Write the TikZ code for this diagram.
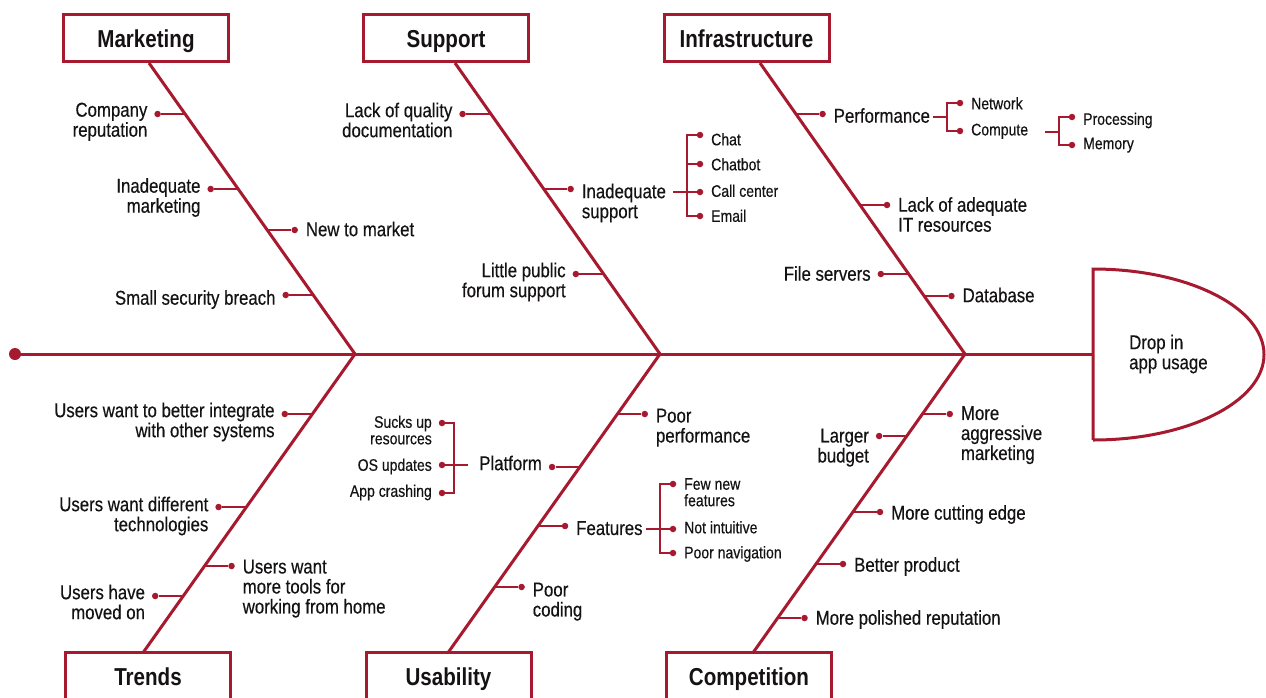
\documentclass[tikz,border=0pt]{standalone}
\usepackage{fontspec}
\setmainfont{Liberation Sans}[FakeStretch=0.84,FakeBold=0.35,BoldFeatures={FakeBold=0}]
\usetikzlibrary{calc}
\definecolor{fr}{RGB}{166,25,46}
\definecolor{ink}{RGB}{20,18,18}
% #1 name, #2 junction x, #3 tick y, #4 side (+1/-1), #5 first-line centre y, #6 text
\newcommand\fish[6]{%
  \pgfmathsetmacro\bx{#2-abs(#3-354)*((#3<354) ? 0.708 : 0.712)}%
  \pgfmathsetmacro\dx{\bx+#4*27.5}%
  \coordinate (#1b) at (\bx,#3);
  \node[dot] (#1d) at (\dx,#3) {};
  \draw[tick] (#1b) -- (#1d);
  \ifnum#4>0
    \node[lbl,align=left,anchor=north west] (#1) at (\dx+11,#5-7.5) {#6};
  \else
    \node[lbl,align=right,anchor=north east] (#1) at (\dx-10,#5-7.5) {#6};
  \fi
}
% small sub-cause: #1 name, #2 dot x, #3 dot y, #4 side, #5 first-line centre y, #6 text
\newcommand\subc[6]{%
  \node[dot] (#1d) at (#2,#3) {};
  \ifnum#4>0
    \node[sml,align=left,anchor=north west] (#1) at (#2+11,#5-6) {#6};
  \else
    \node[sml,align=right,anchor=north east] (#1) at (#2-10,#5-6) {#6};
  \fi
}
\begin{document}
\begin{tikzpicture}[x=1pt,y=-1pt,
  bone/.style={fr,line width=3pt},
  tick/.style={fr,line width=1.8pt},
  dot/.style={circle,fill=fr,draw=none,inner sep=0pt,minimum size=6.5pt},
  lbl/.style={inner sep=0pt,text=ink,font=\fontsize{20}{20}\selectfont},
  sml/.style={inner sep=0pt,text=ink,font=\fontsize{16.7}{16.5}\selectfont},
  cat/.style={draw=fr,line width=3pt,minimum width=165pt,minimum height=47pt,inner sep=0pt,
    text height=18pt,text depth=0pt,text=ink,font=\fontsize{24.5}{25}\selectfont\bfseries}]
\path[fill=white] (0,0) rectangle (1266,697);
\useasboundingbox (0,0) rectangle (1266,697);

% category boxes
\node[cat] (mk) at (146,38) {Marketing};
\node[cat] (sp) at (446,38) {Support};
\node[cat] (in) at (746.5,38) {Infrastructure};
\node[cat] (tr) at (148,676) {Trends};
\node[cat] (us) at (448.5,676) {Usability};
\node[cat] (co) at (749,676) {Competition};

% spine and head
\node[dot,minimum size=12pt] (tail) at (15,354) {};
\coordinate (J1) at (355,354);
\coordinate (J2) at (660,354);
\coordinate (J3) at (965,354);
\coordinate (headL) at (1093,354);
\draw[bone] (tail.center) -- (headL);
\draw[bone] (1093,440) -- (1093,269) arc[start angle=-90,end angle=90,x radius=171,y radius=85.5];
\node[lbl,align=left,anchor=north west] (eff) at (1129,334.5) {Drop in\\app usage};

% bones
\coordinate (mkT) at (149,63);
\coordinate (spT) at (455,63);
\coordinate (inT) at (760,63);
\coordinate (trB) at (143.5,652);
\coordinate (usB) at (448.5,652);
\coordinate (coB) at (753.5,652);
\draw[bone] (mkT) -- (J1) -- (trB);
\draw[bone] (spT) -- (J2) -- (usB);
\draw[bone] (inT) -- (J3) -- (coB);

% Marketing
\fish{c1}{355}{114}{-1}{110}{Company\\reputation}
\fish{c2}{355}{189}{-1}{185.5}{Inadequate\\marketing}
\fish{c3}{355}{230}{1}{229}{New to market}
\fish{c4}{355}{295}{-1}{297.5}{Small security breach}
% Support
\fish{s1}{660}{114}{-1}{110}{Lack of quality\\documentation}
\fish{s2}{660}{189}{1}{191}{Inadequate\\support}
\fish{s3}{660}{274}{-1}{270}{Little public\\forum support}
% Infrastructure
\fish{i1}{965}{114}{1}{115.5}{Performance}
\fish{i2}{965}{205}{1}{204.5}{Lack of adequate\\IT resources}
\fish{i3}{965}{274}{-1}{273.5}{File servers}
\fish{i4}{965}{296}{1}{295}{Database}
% Trends
\fish{t1}{355}{414}{-1}{410}{Users want to better integrate\\with other systems}
\fish{t2}{355}{507}{-1}{504}{Users want different\\technologies}
\fish{t3}{355}{566}{1}{567}{Users want\\more tools for\\working from home}
\fish{t4}{355}{596}{-1}{592}{Users have\\moved on}
% Usability
\fish{u1}{660}{414}{1}{416}{Poor\\performance}
\fish{u2}{660}{467}{-1}{463}{Platform}
\fish{u3}{660}{526}{1}{528.5}{Features}
\fish{u4}{660}{587}{1}{590}{Poor\\coding}
% Competition
\fish{k1}{965}{414}{1}{413.5}{More\\aggressive\\marketing}
\fish{k2}{965}{436}{-1}{436}{Larger\\budget}
\fish{k3}{965}{512}{1}{512.5}{More cutting edge}
\fish{k4}{965}{564}{1}{564.5}{Better product}
\fish{k5}{965}{618}{1}{617.5}{More polished reputation}

% Support sub-causes
\coordinate (s2e) at (673,192);
\coordinate (sb) at (687,192);
\subc{chat}{700}{135}{1}{139}{Chat}
\subc{chatbot}{700}{164}{1}{164}{Chatbot}
\subc{callc}{700}{192}{1}{190.5}{Call center}
\subc{email}{700}{216}{1}{215.5}{Email}
\draw[tick] (s2e) -- (callcd);
\draw[tick] (chatd) -| (sb) |- (emaild);
\draw[tick] (sb |- chatbotd) -- (chatbotd);

% Performance sub-causes
\coordinate (pe) at (933,117);
\coordinate (pb) at (947,117);
\subc{net}{960}{103}{1}{103}{Network}
\subc{comp}{960}{131}{1}{129.5}{Compute}
\draw[tick] (pe) -- (pb);
\draw[tick] (netd) -| (pb) |- (compd);

% Compute sub-causes
\coordinate (ce) at (1045,132);
\coordinate (cb) at (1059,132);
\subc{proc}{1072}{117}{1}{118.5}{Processing}
\subc{mem}{1072}{145}{1}{143.5}{Memory}
\draw[tick] (ce) -- (cb);
\draw[tick] (procd) -| (cb) |- (memd);

% Platform sub-causes
\coordinate (ple) at (468,465);
\coordinate (plb) at (454,465);
\subc{sucks}{442}{423}{-1}{421.5}{Sucks up\\resources}
\subc{os}{442}{465}{-1}{464.5}{OS updates}
\subc{app}{442}{493}{-1}{490.5}{App crashing}
\draw[tick] (ple) -- (osd);
\draw[tick] (sucksd) -| (plb) |- (appd);

% Features sub-causes
\coordinate (fe) at (646,529);
\coordinate (fb) at (660,529);
\subc{few}{673}{484}{1}{484}{Few new\\features}
\subc{notint}{673}{529}{1}{527}{Not intuitive}
\subc{nav}{673}{553}{1}{552}{Poor navigation}
\draw[tick] (fe) -- (notintd);
\draw[tick] (fewd) -| (fb) |- (navd);
\end{tikzpicture}
\end{document}
